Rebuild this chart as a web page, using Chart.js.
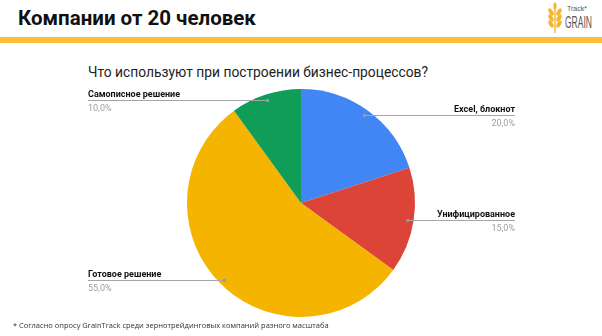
<!DOCTYPE html>
<html>
<head>
<meta charset="utf-8">
<script src="https://cdn.jsdelivr.net/npm/chart.js@4"></script>
<style>
  html, body { margin: 0; padding: 0; background: #fff; }
  #wrap { position: relative; width: 602px; height: 336px; overflow: hidden; }
  #title { position: absolute; left: 18px; top: 6px; font: 700 20.5px Roboto, sans-serif; color: #111; white-space: nowrap; }
  #bar { position: absolute; left: 0; top: 37px; width: 602px; height: 6px; background: #fdbd36; }
  #sub { position: absolute; left: 88px; top: 64px; font: 13.8px Roboto, sans-serif; color: #222; white-space: nowrap; }
  #foot { position: absolute; left: 13px; top: 320px; font: 7.5px "Open Sans", sans-serif; color: #333; white-space: nowrap; }
  #logo { position: absolute; left: 546px; top: 2px; width: 56px; height: 32px; }
  #logo svg { position: absolute; left: 0; top: 0; }
  #logo .t1 { position: absolute; left: 21px; top: 3px; font: 7px "Liberation Sans", Arial, sans-serif; color: #555; }
  #logo .t2 { position: absolute; left: 19px; top: 12px; font: 17px "Liberation Sans", sans-serif; line-height: 17px; color: #555; transform: scaleX(0.5); transform-origin: 0 0; }
  canvas { position: absolute; left: 0; top: 0; }
</style>
</head>
<body>
<div id="wrap">
  <div id="title">Компании от 20 человек</div>
  <div id="bar"></div>
  <div id="logo">
    <svg width="18" height="32" viewBox="0 0 18 32">
      <g fill="#f5b52c">
        <ellipse cx="9" cy="4" rx="1.6" ry="3.5"/>
        <ellipse cx="5" cy="10" rx="2" ry="4" transform="rotate(-30 5 10)"/>
        <ellipse cx="13" cy="10" rx="2" ry="4" transform="rotate(30 13 10)"/>
        <ellipse cx="5" cy="16" rx="2" ry="4" transform="rotate(-30 5 16)"/>
        <ellipse cx="13" cy="16" rx="2" ry="4" transform="rotate(30 13 16)"/>
        <ellipse cx="5" cy="22" rx="2" ry="4" transform="rotate(-30 5 22)"/>
        <ellipse cx="13" cy="22" rx="2" ry="4" transform="rotate(30 13 22)"/>
        <rect x="8.3" y="6" width="1.4" height="25"/>
      </g>
    </svg>
    <div class="t1">Track*</div>
    <div class="t2">GRAIN</div>
  </div>
  <div id="sub">Что используют при построении бизнес-процессов?</div>
  <canvas id="mycanvas" width="602" height="336"></canvas>
  <div id="foot">* Согласно опросу GrainTrack среди зернотрейдинговых компаний разного масштаба</div>
</div>
<script>
var categories = ['Excel, блокнот', 'Унифицированное', 'Готовое решение', 'Самописное решение'];
var shares = [20, 15, 55, 10];
var pctLabels = ['20,0%', '15,0%', '55,0%', '10,0%'];
var colors = ['#4285f4', '#db4437', '#f4b400', '#0f9d58'];

// leader lines with labels, drawn from each slice's angle
var calloutPlugin = {
  id: 'callouts',
  afterDatasetsDraw: function(chart)
  {
    var ctx = chart.ctx;
    var arcs = chart.getDatasetMeta(0).data;
    ctx.save();
    for (var i = 0; i < arcs.length; i++)
    {
      var a = arcs[i];
      var mid = (a.startAngle + a.endAngle) / 2;
      var px = a.x + Math.cos(mid) * a.outerRadius * 0.95;
      var py = Math.round(a.y + Math.sin(mid) * a.outerRadius * 0.95);
      var right = Math.cos(mid) >= 0;
      var endX = right ? 515 : 88;
      ctx.strokeStyle = '#a6a6a6';
      ctx.lineWidth = 1;
      ctx.beginPath();
      ctx.moveTo(px, py + 0.5);
      ctx.lineTo(endX, py + 0.5);
      ctx.stroke();
      ctx.fillStyle = '#9a9a9a';
      ctx.beginPath();
      ctx.arc(px, py + 0.5, 1.8, 0, Math.PI * 2);
      ctx.fill();
      ctx.textAlign = right ? 'right' : 'left';
      ctx.textBaseline = 'alphabetic';
      ctx.font = 'bold 9px Roboto';
      ctx.fillStyle = '#111';
      ctx.fillText(categories[i], endX, py - 3);
      ctx.font = '9px Roboto';
      ctx.fillStyle = '#9e9e9e';
      ctx.fillText(pctLabels[i], endX, py + 11);
    }
    ctx.restore();
  }
};

var ctx = document.getElementById('mycanvas');
var pie = new Chart(ctx, {
  type: 'pie',
  data: {
    labels: categories,
    datasets: [{
      data: shares,
      backgroundColor: colors,
      borderWidth: 0
    }]
  },
  options: {
    responsive: false,
    animation: false,
    layout: { padding: { top: 89, bottom: 19, left: 100, right: 100 } },
    plugins: {
      legend: { display: false },
      tooltip: { enabled: false },
      title: { display: false }
    }
  },
  plugins: [calloutPlugin]
});
</script>
</body>
</html>
